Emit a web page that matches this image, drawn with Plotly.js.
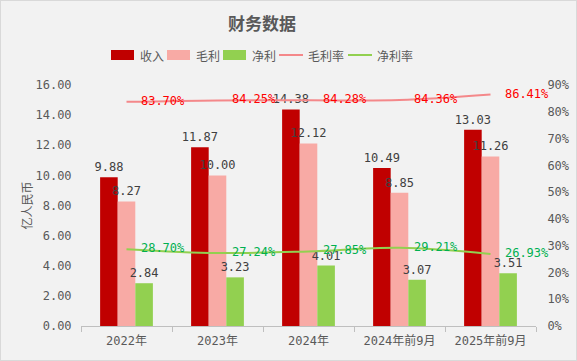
<!DOCTYPE html>
<html>
<head>
<meta charset="utf-8">
<script src="https://cdn.plot.ly/plotly-3.0.1.min.js"></script>
<style>
html,body{margin:0;padding:0;background:#f2f2f2;}
#chart{width:575px;height:359px;border:1px solid #d9d9d9;}
</style>
</head>
<body>
<div id="chart"></div>
<script>
const categories = ["2022年", "2023年", "2024年", "2024年前9月", "2025年前9月"];
const revenue = [9.88, 11.87, 14.38, 10.49, 13.03];
const grossProfit = [8.27, 10.00, 12.12, 8.85, 11.26];
const netProfit = [2.84, 3.23, 4.01, 3.07, 3.51];
const grossMargin = [83.70, 84.25, 84.28, 84.36, 86.41];
const netMargin = [28.70, 27.24, 27.85, 29.21, 26.93];

const FONT = "DejaVu Sans Mono, Noto Sans CJK SC, sans-serif";
const CJK = "Noto Sans CJK SC, sans-serif";
const fmt2 = v => v.toFixed(2);
const pad = "\u00a0\u00a0";
const fmtPct = v => pad + v.toFixed(2) + "%";

const C_REV = "#c00000", C_GP = "#f8aaa5", C_NP = "#92d050", C_GM = "#f4888a", C_NM = "#92d050";

const barText = {color: "#404040", size: 12, family: FONT};
const traces = [
  {type: "bar", name: "收入", x: categories, y: revenue, marker: {color: C_REV},
   text: revenue.map(fmt2), textposition: "outside", constraintext: "none", cliponaxis: false, textfont: barText},
  {type: "bar", name: "毛利", x: categories, y: grossProfit, marker: {color: C_GP},
   text: grossProfit.map(fmt2), textposition: "outside", constraintext: "none", cliponaxis: false, textfont: barText},
  {type: "bar", name: "净利", x: categories, y: netProfit, marker: {color: C_NP},
   text: netProfit.map(fmt2), textposition: "outside", constraintext: "none", cliponaxis: false, textfont: barText},
  {type: "scatter", mode: "lines+text", name: "毛利率", x: categories, y: grossMargin, yaxis: "y2",
   line: {color: C_GM, width: 2, shape: "spline", smoothing: 1},
   text: grossMargin.map(fmtPct), textposition: "middle right", cliponaxis: false,
   textfont: {color: "#ff0000", size: 12, family: FONT}},
  {type: "scatter", mode: "lines+text", name: "净利率", x: categories, y: netMargin, yaxis: "y2",
   line: {color: C_NM, width: 2, shape: "spline", smoothing: 1},
   text: netMargin.map(fmtPct), textposition: "middle right", cliponaxis: false,
   textfont: {color: "#00b050", size: 12, family: FONT}}
];

// Custom legend (wide swatches like the reference), placed in paper coords
const PL = 81, PR = 536, PT = 85, PB = 326;
const px2x = p => (p - PL) / (PR - PL);
const py2y = p => (PB - p) / (PB - PT);
const legendItems = [
  {name: traces[0].name, kind: "bar",  color: C_REV, x0: 111},
  {name: traces[1].name, kind: "bar",  color: C_GP,  x0: 167},
  {name: traces[2].name, kind: "bar",  color: C_NP,  x0: 223},
  {name: traces[3].name, kind: "line", color: C_GM,  x0: 279},
  {name: traces[4].name, kind: "line", color: C_NM,  x0: 348}
];
const LY = 55;
const shapes = [], annotations = [];
legendItems.forEach(it => {
  if (it.kind === "bar") {
    shapes.push({type: "rect", xref: "paper", yref: "paper",
      x0: px2x(it.x0), x1: px2x(it.x0 + 23), y0: py2y(LY + 5), y1: py2y(LY - 5),
      fillcolor: it.color, line: {width: 0}});
  } else {
    shapes.push({type: "line", xref: "paper", yref: "paper",
      x0: px2x(it.x0), x1: px2x(it.x0 + 24), y0: py2y(LY), y1: py2y(LY),
      line: {color: it.color, width: 2}});
  }
  annotations.push({xref: "paper", yref: "paper", x: px2x(it.x0 + 27), y: py2y(LY),
    xanchor: "left", yanchor: "middle", showarrow: false, text: it.name,
    font: {family: CJK, size: 12, color: "#595959"}});
});

const layout = {
  width: 575, height: 359,
  paper_bgcolor: "#f2f2f2", plot_bgcolor: "#f2f2f2",
  margin: {l: 80, r: 40, t: 84, b: 34},
  font: {family: FONT, color: "#595959", size: 12},
  title: {text: "<b>财务数据</b>", font: {family: CJK, size: 17, color: "#595959"},
          xref: "paper", x: px2x(262), xanchor: "center", y: 0.935, yanchor: "middle"},
  barmode: "group", bargap: 0.42, bargroupgap: 0,
  showlegend: false,
  shapes: shapes,
  annotations: annotations,
  xaxis: {type: "category", showgrid: false, showline: true, linecolor: "#bfbfbf", linewidth: 1,
          ticks: "outside", tickson: "boundaries", ticklen: 5, tickcolor: "#bfbfbf",
          ticklabelstandoff: 4,
          tickfont: {family: FONT, size: 12, color: "#595959"}, zeroline: false},
  yaxis: {range: [0, 16], dtick: 2, tickformat: ".2f", showgrid: false, zeroline: false, showline: false,
          ticks: "outside", ticklen: 6, tickcolor: "rgba(0,0,0,0)",
          title: {text: "亿人民币", font: {family: CJK, size: 12, color: "#595959"}, standoff: 0},
          tickfont: {family: FONT, size: 12, color: "#595959"}},
  yaxis2: {range: [0, 90], dtick: 10, ticksuffix: "%", overlaying: "y", side: "right",
           showgrid: false, zeroline: false, showline: false,
           ticks: "outside", ticklen: 8, tickcolor: "rgba(0,0,0,0)",
           tickfont: {family: FONT, size: 12, color: "#595959"}}
};

Plotly.newPlot("chart", traces, layout, {displayModeBar: false, staticPlot: true});
</script>
</body>
</html>
